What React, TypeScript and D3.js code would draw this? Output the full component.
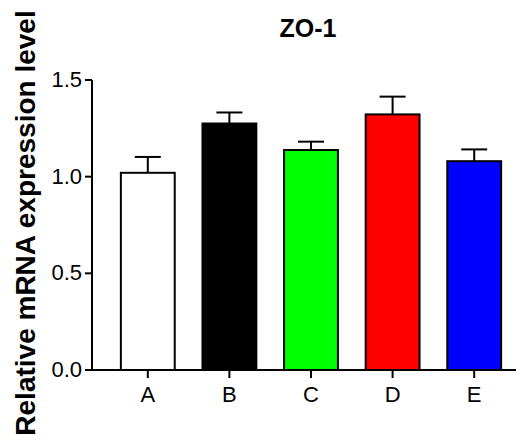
import React, { useEffect, useRef } from 'react';
import * as d3 from 'd3';

const groups = ['A', 'B', 'C', 'D', 'E'];
const means = [1.02, 1.275, 1.138, 1.322, 1.08];
const errors = [0.082, 0.057, 0.043, 0.092, 0.061];
const colors = ['#ffffff', '#000000', '#00ff00', '#ff0000', '#0000ff'];
const yTicks = [0, 0.5, 1.0, 1.5];

const App = () => {
  const svgRef = useRef<SVGSVGElement>(null);

  useEffect(() => {
    const svg = d3.select(svgRef.current);
    svg.selectAll('*').remove();

    const W = 521;
    const H = 445;
    svg.attr('width', W).attr('height', H);

    const axisX = 92;
    const x = d3.scaleBand().domain(groups).range([107, 515]).paddingInner(0.34).paddingOuter(0.17);
    const y = d3.scaleLinear().domain([0, 1.5]).range([370, 80]);

    const font = 'Arial, "Liberation Sans", sans-serif';

    // eixo y
    svg.append('line')
      .attr('x1', axisX).attr('x2', axisX)
      .attr('y1', y(1.5)).attr('y2', y(0))
      .attr('stroke', '#000').attr('stroke-width', 2);

    svg.selectAll('.ytick')
      .data(yTicks)
      .enter()
      .append('line')
      .attr('x1', axisX - 7).attr('x2', axisX)
      .attr('y1', d => y(d)).attr('y2', d => y(d))
      .attr('stroke', '#000').attr('stroke-width', 2);

    svg.selectAll('.ylab')
      .data(yTicks)
      .enter()
      .append('text')
      .attr('x', axisX - 10)
      .attr('y', d => y(d) + 7)
      .attr('text-anchor', 'end')
      .attr('font-family', font)
      .attr('font-size', 22)
      .attr('fill', '#000')
      .text(d => d.toFixed(1));

    // barras
    svg.selectAll('.bar')
      .data(groups)
      .enter()
      .append('rect')
      .attr('x', d => x(d)!)
      .attr('width', x.bandwidth())
      .attr('y', (d, i) => y(means[i]))
      .attr('height', (d, i) => y(0) - y(means[i]))
      .attr('fill', (d, i) => colors[i])
      .attr('stroke', '#000')
      .attr('stroke-width', 2);

    // barras de erro
    const cap = 13;
    groups.forEach((g, i) => {
      const cx = x(g)! + x.bandwidth() / 2;
      svg.append('line')
        .attr('x1', cx).attr('x2', cx)
        .attr('y1', y(means[i])).attr('y2', y(means[i] + errors[i]))
        .attr('stroke', '#000').attr('stroke-width', 2);
      svg.append('line')
        .attr('x1', cx - cap).attr('x2', cx + cap)
        .attr('y1', y(means[i] + errors[i])).attr('y2', y(means[i] + errors[i]))
        .attr('stroke', '#000').attr('stroke-width', 2);
    });

    // eixo x
    svg.append('line')
      .attr('x1', axisX - 1).attr('x2', 516)
      .attr('y1', y(0)).attr('y2', y(0))
      .attr('stroke', '#000').attr('stroke-width', 2);

    svg.selectAll('.xtick')
      .data(groups)
      .enter()
      .append('line')
      .attr('x1', d => x(d)! + x.bandwidth() / 2)
      .attr('x2', d => x(d)! + x.bandwidth() / 2)
      .attr('y1', y(0)).attr('y2', y(0) + 8)
      .attr('stroke', '#000').attr('stroke-width', 2);

    svg.selectAll('.xlab')
      .data(groups)
      .enter()
      .append('text')
      .attr('x', d => x(d)! + x.bandwidth() / 2)
      .attr('y', 402)
      .attr('text-anchor', 'middle')
      .attr('font-family', font)
      .attr('font-size', 22)
      .attr('fill', '#000')
      .text(d => d);

    // título
    svg.append('text')
      .attr('x', 308)
      .attr('y', 37)
      .attr('text-anchor', 'middle')
      .attr('font-family', font)
      .attr('font-weight', 'bold')
      .attr('font-size', 25)
      .text('ZO-1');

    svg.append('text')
      .attr('transform', `translate(35,${223}) rotate(-90)`)
      .attr('text-anchor', 'middle')
      .attr('font-family', font)
      .attr('font-weight', 'bold')
      .attr('font-size', 28)
      .text('Relative mRNA expression level');
  }, []);

  return (
    <div style={{ position: 'absolute', left: 0, top: 0 }}>
      <svg ref={svgRef} />
    </div>
  );
};

export default App;
